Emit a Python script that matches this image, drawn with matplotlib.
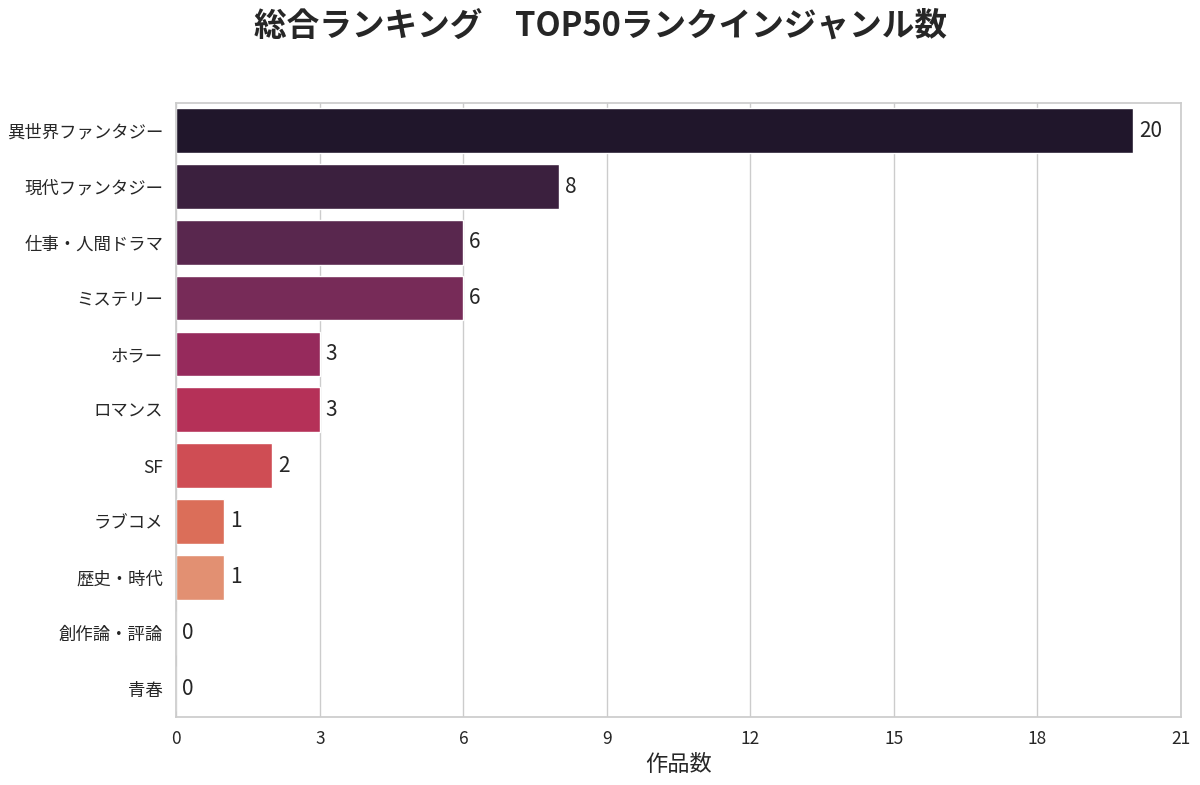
import matplotlib
matplotlib.use('Agg')
import matplotlib.pyplot as plt
import seaborn as sns

# ジャンル別の作品数
genres = ['異世界ファンタジー', '現代ファンタジー', '仕事・人間ドラマ', 'ミステリー', 'ホラー',
          'ロマンス', 'SF', 'ラブコメ', '歴史・時代', '創作論・評論', '青春']
counts = [20, 8, 6, 6, 3, 3, 2, 1, 1, 0, 0]
xticks = [0, 3, 6, 9, 12, 15, 18, 21]

sns.set_theme(style='whitegrid')
plt.rcParams['font.family'] = ['Noto Sans CJK JP', 'DejaVu Sans']

fig, ax = plt.subplots(figsize=(12, 7.85), dpi=100)
fig.subplots_adjust(left=0.147, right=0.984, top=0.869, bottom=0.087)

colors = sns.color_palette('rocket', len(genres))
sns.barplot(x=counts, y=genres, hue=genres, palette=colors, legend=False, ax=ax, orient='h')

for i, v in enumerate(counts):
    ax.text(v + 0.12, i, str(v), va='center', ha='left', fontsize=15, color='#262626')

ax.set_xlim(0, 21)
ax.set_xticks(xticks)
ax.set_xlabel('作品数', fontsize=16)
ax.set_ylabel('')
ax.tick_params(axis='both', labelsize=12.5)
ax.grid(axis='y', visible=False)

fig.suptitle('総合ランキング　TOP50ランクインジャンル数', fontsize=23.5, fontweight='bold', y=0.988)

plt.savefig('out.png', dpi=100)
